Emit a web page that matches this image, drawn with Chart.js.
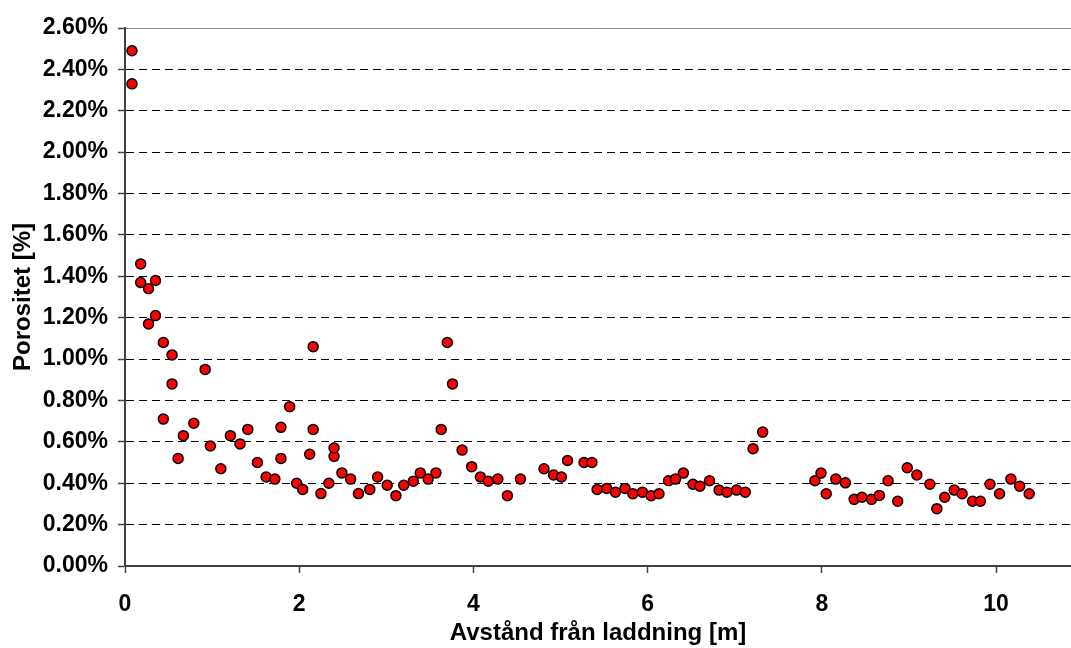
<!DOCTYPE html>
<html>
<head>
<meta charset="utf-8">
<title>Porositet</title>
<script src="https://cdn.jsdelivr.net/npm/chart.js@4/dist/chart.umd.min.js"></script>
<style>
    html, body {
        margin: 0;
        padding: 0;
        background: #ffffff;
    }
    #chart {
        display: block;
    }
</style>
</head>
<body>
<canvas id="chart" width="1071" height="648"></canvas>
<script>
// avstånd från laddning [m]
const distance = [
    0.08, 0.08, 0.18, 0.18, 0.27, 0.27, 0.35, 0.35, 0.44, 0.44,
    0.54, 0.54, 0.61, 0.67, 0.79, 0.92, 0.98, 1.10, 1.21, 1.32,
    1.41, 1.52, 1.62, 1.72, 1.79, 1.79, 1.89, 1.97, 2.04, 2.12,
    2.16, 2.16, 2.25, 2.34, 2.40, 2.40, 2.49, 2.59, 2.68, 2.81,
    2.90, 3.01, 3.11, 3.20, 3.31, 3.39, 3.48, 3.57, 3.63, 3.70,
    3.76, 3.87, 3.98, 4.08, 4.17, 4.28, 4.39, 4.54, 4.81, 4.92,
    5.01, 5.08, 5.27, 5.36, 5.42, 5.53, 5.63, 5.74, 5.83, 5.94,
    6.04, 6.13, 6.24, 6.32, 6.41, 6.52, 6.60, 6.71, 6.82, 6.91,
    7.02, 7.12, 7.21, 7.32, 7.92, 7.99, 8.05, 8.16, 8.27, 8.37,
    8.46, 8.57, 8.66, 8.76, 8.87, 8.98, 9.09, 9.24, 9.32, 9.41,
    9.52, 9.61, 9.73, 9.82, 9.93, 10.04, 10.17, 10.27, 10.38
]

// porositet [%]
const porosity = [
    2.49, 2.33, 1.46, 1.37, 1.34, 1.17, 1.38, 1.21, 1.08, 0.71,
    1.02, 0.88, 0.52, 0.63, 0.69, 0.95, 0.58, 0.47, 0.63, 0.59,
    0.66, 0.50, 0.43, 0.42, 0.52, 0.67, 0.77, 0.40, 0.37, 0.54,
    1.06, 0.66, 0.35, 0.40, 0.53, 0.57, 0.45, 0.42, 0.35, 0.37,
    0.43, 0.39, 0.34, 0.39, 0.41, 0.45, 0.42, 0.45, 0.66, 1.08,
    0.88, 0.56, 0.48, 0.43, 0.41, 0.42, 0.34, 0.42, 0.47, 0.44,
    0.43, 0.51, 0.50, 0.50, 0.37, 0.375, 0.357, 0.375, 0.349, 0.357,
    0.34, 0.349, 0.412, 0.42, 0.449, 0.395, 0.386, 0.412, 0.367, 0.357,
    0.367, 0.357, 0.567, 0.647, 0.412, 0.449, 0.349, 0.42, 0.402, 0.322,
    0.332, 0.322, 0.341, 0.412, 0.313, 0.475, 0.44, 0.395, 0.277, 0.332,
    0.367, 0.349, 0.313, 0.313, 0.395, 0.349, 0.42, 0.386, 0.349
]

const xTicks = [0, 2, 4, 6, 8, 10]
const yMax = 2.6
const yStep = 0.2

const points = distance.map((x, i) => ({x: x, y: porosity[i]}))

const labelFont = {
    family: '"Liberation Sans", Arial, Helvetica, sans-serif',
    size: 23,
    weight: 'bold',
}
const titleFont = {
    family: '"Liberation Sans", Arial, Helvetica, sans-serif',
    size: 24,
    weight: 'bold',
}

const ctx = document.getElementById('chart')

new Chart(ctx, {
    type: 'scatter',
    data: {
        datasets: [{
            label: 'Porositet',
            data: points,
            backgroundColor: '#ff0000',
            borderColor: '#000000',
            borderWidth: 1.5,
            pointRadius: 5,
            pointHoverRadius: 5,
        }]
    },
    options: {
        responsive: false,
        animation: false,
        devicePixelRatio: 1,
        layout: {
            autoPadding: false,
            padding: {top: 28, right: 0, bottom: 0, left: 0}
        },
        plugins: {
            legend: {display: false},
            tooltip: {enabled: false},
        },
        scales: {
            x: {
                type: 'linear',
                min: 0,
                max: 10.86,
                afterBuildTicks: (scale) => {
                    scale.ticks = xTicks.map(v => ({value: v}))
                },
                afterFit: (scale) => {
                    // plot runs right up to the canvas edge
                    scale.height = 82
                    scale.paddingRight = 0
                    scale.paddingLeft = 0
                },
                ticks: {
                    color: '#000000',
                    font: labelFont,
                    padding: 18,
                    maxRotation: 0,
                    includeBounds: false,
                },
                grid: {
                    drawOnChartArea: false,
                    drawTicks: true,
                    tickLength: 7,
                    tickColor: '#404040',
                    tickWidth: 1.5,
                },
                border: {
                    color: '#404040',
                    width: 2,
                },
                title: {
                    display: true,
                    text: 'Avstånd från laddning [m]',
                    color: '#000000',
                    font: titleFont,
                    padding: {top: 0, bottom: 0},
                }
            },
            y: {
                min: 0,
                max: yMax,
                afterFit: (scale) => {
                    scale.width = 125
                },
                ticks: {
                    stepSize: yStep,
                    color: '#000000',
                    font: labelFont,
                    padding: 10,
                    callback: (v) => v.toFixed(2) + '%',
                },
                grid: {
                    color: (c) => c.tick && c.tick.value >= yMax - 0.001 ? '#8c8c8c' : '#000000',
                    lineWidth: 1,
                    drawTicks: true,
                    tickLength: 7,
                    tickColor: '#404040',
                    tickWidth: 1.5,
                    tickBorderDash: [],
                },
                border: {
                    color: '#404040',
                    width: 2,
                    dash: (c) => c.tick && c.tick.value >= yMax - 0.001 ? [] : [8, 5],
                },
                title: {
                    display: true,
                    text: 'Porositet [%]',
                    color: '#000000',
                    font: titleFont,
                    padding: {top: 9, bottom: 0},
                }
            }
        }
    }
})
</script>
</body>
</html>
